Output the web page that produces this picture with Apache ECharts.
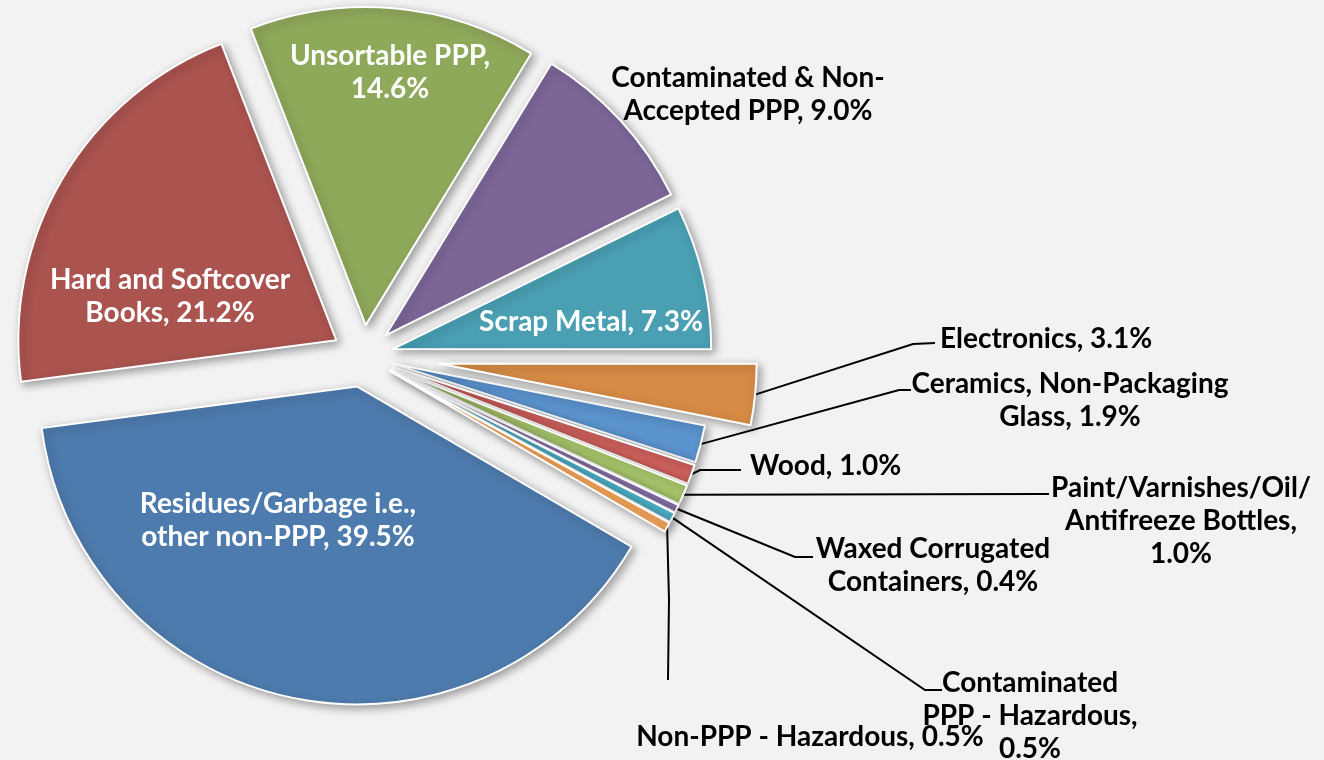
<!DOCTYPE html>
<html><head><meta charset="utf-8">
<script src="https://cdn.jsdelivr.net/npm/echarts@6/dist/echarts.min.js"></script>
<style>html,body{margin:0;padding:0;background:#f2f2f2}#chart{width:1324px;height:760px}</style>
</head><body><div id="chart"></div>
<script>
// ---- data ----
const categories = ['Unsortable PPP', 'Contaminated & Non-Accepted PPP', 'Scrap Metal', 'Electronics',
  'Ceramics, Non-Packaging Glass', 'Wood', 'Paint/Varnishes/Oil/Antifreeze Bottles', 'Waxed Corrugated Containers',
  'Contaminated PPP - Hazardous', 'Non-PPP - Hazardous', 'Residues/Garbage i.e., other non-PPP', 'Hard and Softcover Books'];
const shares = [14.6, 9.0, 7.3, 3.1, 1.9, 1.0, 1.0, 0.4, 0.5, 0.5, 39.5, 21.2];
const labelText = ['Unsortable PPP,\n#', 'Contaminated & Non-\nAccepted PPP, #', 'Scrap Metal, #', 'Electronics, #',
  'Ceramics, Non-Packaging\nGlass, #', 'Wood, #', 'Paint/Varnishes/Oil/\nAntifreeze Bottles,\n#', 'Waxed Corrugated\nContainers, #',
  'Contaminated\nPPP - Hazardous,\n#', 'Non-PPP - Hazardous, #', 'Residues/Garbage i.e.,\nother non-PPP, #', 'Hard and Softcover\nBooks, #'];

// ---- styles / layout ----
const colors = ['#8FA95B', '#7C6698', '#4A9FB3', '#D68B45', '#5B93CE', '#CC5F5B', '#A6C46A', '#8E75B0',
  '#4FB6CE', '#F5A55A', '#4E7BAD', '#AA534F'];
const PIE_CENTER = [363, 356];
const START_ANGLE = 111.2;
const insideIdx = [0, 2, 10, 11];
const noLine = [1];
const labelPlace = {
  0: { x: 390, y: 72, align: 'center' },
  1: { x: 748, y: 94, align: 'center' },
  2: { x: 591, y: 322, align: 'center' },
  3: { x: 940, y: 339, align: 'left', elbow: [913, 344], end: [935, 343] },
  4: { x: 1070, y: 400, align: 'center', elbow: [899, 390], end: [911, 390] },
  5: { x: 750, y: 466, align: 'left', elbow: [700, 470], end: [741, 470] },
  6: { x: 1181, y: 521, align: 'center', elbow: [1040, 494], end: [1049, 494] },
  7: { x: 933, y: 565, align: 'center', elbow: [795, 557], end: [813, 557] },
  8: { x: 1030, y: 716, align: 'center', elbow: [925, 690], end: [942, 690] },
  9: { x: 810, y: 737, align: 'center', elbow: [669, 600], end: [668, 680] },
  10: { x: 278, y: 520, align: 'center' },
  11: { x: 170, y: 296, align: 'center' }
};

// direction (screen) of each slice's bisector, used to undo the explode translation on labels
const total = shares.reduce(function (a, b) { return a + b; }, 0);
const midDir = (function () {
  let cum = 0;
  return shares.map(function (s) {
    const mid = (START_ANGLE - (cum + s / 2) / total * 360) * Math.PI / 180;
    cum += s;
    return [Math.cos(mid), -Math.sin(mid)];
  });
})();

function buildSeries(isVisible, offset) {
  return {
    type: 'pie',
    center: PIE_CENTER,
    radius: 318,
    startAngle: START_ANGLE,
    clockwise: true,
    selectedMode: 'multiple',
    selectedOffset: offset,
    avoidLabelOverlap: false,
    animation: false,
    emphasis: { disabled: true },
    data: categories.map(function (name, i) {
      const show = isVisible(i);
      const inside = insideIdx.indexOf(i) >= 0;
      return {
        name: name,
        value: shares[i],
        selected: true,
        itemStyle: show ? {
          color: colors[i], borderColor: '#ffffff', borderWidth: 2,
          shadowBlur: 8, shadowOffsetX: 3, shadowOffsetY: 3, shadowColor: 'rgba(0,0,0,0.35)'
        } : { color: 'rgba(0,0,0,0)', borderWidth: 0, shadowBlur: 0 },
        label: {
          show: show,
          position: inside ? 'inside' : 'outside',
          color: inside ? '#ffffff' : '#000000',
          formatter: function () { return labelText[i].replace('#', shares[i].toFixed(1) + '%'); }
        },
        labelLine: { show: show && !inside && noLine.indexOf(i) < 0 }
      };
    }),
    label: {
      fontFamily: 'Lato', fontWeight: 'bold', fontSize: 28, lineHeight: 33,
      textBorderWidth: 0, textShadowBlur: 0
    },
    labelLine: { lineStyle: { color: '#000000', width: 2 } },
    labelLayout: function (params) {
      const i = params.dataIndex;
      const p = labelPlace[i];
      if (!p) return {};
      const ox = midDir[i][0] * offset, oy = midDir[i][1] * offset;
      const r = params.labelRect;
      const ax = params.align === 'left' ? r.x : (params.align === 'right' ? r.x + r.width : r.x + r.width / 2);
      const ay = params.verticalAlign === 'top' ? r.y : (params.verticalAlign === 'bottom' ? r.y + r.height : r.y + r.height / 2);
      const out = { dx: p.x - ax - ox, dy: p.y - ay - oy, align: p.align, verticalAlign: 'middle' };
      const pts = params.labelLinePoints;
      if (p.elbow && pts && pts.length) {
        out.labelLinePoints = [pts[0], [p.elbow[0] - ox, p.elbow[1] - oy], [p.end[0] - ox, p.end[1] - oy]];
      }
      return out;
    }
  };
}

const chart = echarts.init(document.getElementById('chart'), null, { renderer: 'canvas' });
chart.setOption({
  backgroundColor: '#f2f2f2',
  animation: false,
  series: [
    buildSeries(function (i) { return i !== 3; }, 31),
    buildSeries(function (i) { return i === 3; }, 76)
  ]
});
</script>
</body></html>
